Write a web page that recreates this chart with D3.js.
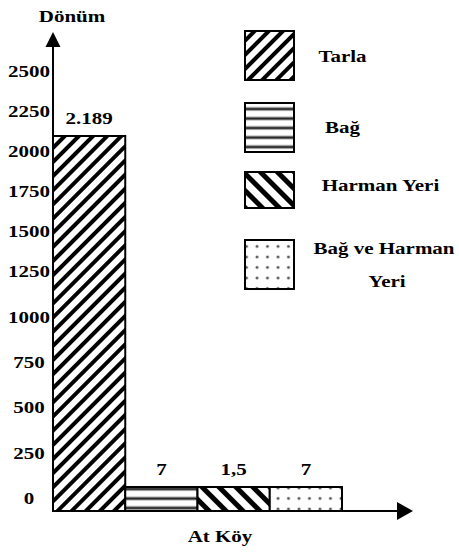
<!DOCTYPE html>
<html>
<head>
<meta charset="utf-8">
<script src="https://cdn.jsdelivr.net/npm/d3@7"></script>
<style>
  body { margin: 0; background: #fff; }
  text {
    font-family: "Liberation Serif", "Times New Roman", serif;
    font-weight: bold;
    font-size: 17.5px;
    fill: #000;
  }
  .bar, .key { stroke: #000; stroke-width: 2; }
  .axis-line { stroke: #000; stroke-width: 2; fill: none; }
</style>
</head>
<body>
<svg id="chart" width="459" height="554"></svg>
<script>
// data
const categories = ["Tarla", "Bağ", "Harman Yeri", "Bağ ve Harman Yeri"];
const values = [2189, 7, 1.5, 7];
const legendLines = [["Tarla"], ["Bağ"], ["Harman Yeri"], ["Bağ ve Harman", "Yeri"]];
const tickValues = [0, 250, 500, 750, 1000, 1250, 1500, 1750, 2000, 2250, 2500];
const groupLabel = "At Köy";
const yTitle = "Dönüm";

const patternIds = ["tarla", "bag", "harman", "noktali"];
const stretch = 1.2; // the source text is drawn a little wide
const minBarH = 24;  // small bars are drawn at a visible height

const tr = d3.formatLocale({ decimal: ",", thousands: ".", grouping: [3], currency: ["", " TL"] });
const fmtValue = tr.format(",");

const svg = d3.select("#chart");
const axisX = 53, baseY = 511;

// patterns
const defs = svg.append("defs");

const p1 = defs.append("pattern").attr("id", "tarla")
  .attr("patternUnits", "userSpaceOnUse").attr("width", 10).attr("height", 10)
  .attr("patternTransform", "rotate(45)");
p1.append("rect").attr("width", 10).attr("height", 10).attr("fill", "#fff");
p1.append("rect").attr("x", 0).attr("width", 4).attr("height", 10).attr("fill", "#000");

const p2 = defs.append("pattern").attr("id", "bag")
  .attr("patternUnits", "userSpaceOnUse").attr("width", 10).attr("height", 9.5);
p2.append("rect").attr("width", 10).attr("height", 9.5).attr("fill", "#fff");
p2.append("rect").attr("y", 2.5).attr("width", 10).attr("height", 4).attr("fill", "#aaa");
p2.append("rect").attr("y", 3.5).attr("width", 10).attr("height", 2).attr("fill", "#222");

const p3 = defs.append("pattern").attr("id", "harman")
  .attr("patternUnits", "userSpaceOnUse").attr("width", 12).attr("height", 12)
  .attr("patternTransform", "rotate(-45)");
p3.append("rect").attr("width", 12).attr("height", 12).attr("fill", "#fff");
p3.append("rect").attr("x", 0).attr("width", 5).attr("height", 12).attr("fill", "#000");

const p4 = defs.append("pattern").attr("id", "noktali")
  .attr("patternUnits", "userSpaceOnUse").attr("width", 10.5).attr("height", 10.5);
p4.append("rect").attr("width", 10.5).attr("height", 10.5).attr("fill", "#fff");
p4.append("circle").attr("cx", 5).attr("cy", 5).attr("r", 1.4).attr("fill", "#555");

// scales
const x = d3.scaleBand().domain(categories).range([axisX, 342]).padding(0);
const yBar = d3.scaleLinear().domain([0, 2189]).range([baseY, 136]);
// tick labels in the source are not evenly spaced
const yAxis = d3.scaleLinear().domain([0, 1250, 2500]).range([498, 271, 71]);

function label(sel, tx, ty) {
  return sel.attr("transform", `translate(${tx},${ty}) scale(${stretch},1)`);
}

// bars
const barTop = (v) => Math.min(yBar(v), baseY - minBarH);
svg.selectAll(".bar").data(categories).join("rect")
  .attr("class", "bar")
  .attr("x", d => x(d))
  .attr("width", x.bandwidth())
  .attr("y", (d, i) => barTop(values[i]))
  .attr("height", (d, i) => baseY - barTop(values[i]))
  .attr("fill", (d, i) => `url(#${patternIds[i]})`);

// value labels
svg.selectAll(".val").data(categories).join("text")
  .attr("class", "val")
  .attr("text-anchor", "middle")
  .each(function (d, i) {
    label(d3.select(this), x(d) + x.bandwidth() / 2, barTop(values[i]) - 12);
  })
  .text((d, i) => fmtValue(values[i]));

// y tick labels
const gy = svg.append("g")
  .attr("transform", `translate(${axisX},0)`)
  .call(d3.axisLeft(yAxis).tickValues(tickValues).tickFormat(d3.format("d")).tickSize(0));
gy.select(".domain").remove();
gy.selectAll("text")
  .attr("text-anchor", "middle")
  .attr("fill", "#000")
  .attr("font-size", null)
  .attr("font-family", null)
  .attr("x", -24 / stretch)
  .attr("transform", `scale(${stretch},1)`);
gy.attr("font-size", null).attr("font-family", null);

// axes with arrows
svg.append("line").attr("class", "axis-line")
  .attr("x1", axisX).attr("y1", baseY + 1).attr("x2", axisX).attr("y2", 45);
svg.append("path").attr("d", `M${axisX},32 L${axisX - 7.5},47 L${axisX + 7.5},47 Z`).attr("fill", "#000");
svg.append("line").attr("class", "axis-line")
  .attr("x1", axisX - 1).attr("y1", baseY).attr("x2", 399).attr("y2", baseY);
svg.append("path").attr("d", `M413,${baseY} L397,${baseY - 9} L397,${baseY + 9} Z`).attr("fill", "#000");

label(svg.append("text").attr("text-anchor", "middle"), 72, 22).text(yTitle);
label(svg.append("text").attr("text-anchor", "middle"), 220, 542).text(groupLabel);

// legend
const keyBoxes = [[31, 49], [103, 49], [172, 36], [240, 49]];
const keyText = [[342.5, [62]], [342.5, [133]], [380.5, [191]], [384, [254, 287]]];
categories.forEach((c, i) => {
  svg.append("rect").attr("class", "key")
    .attr("x", 245).attr("y", keyBoxes[i][0])
    .attr("width", 49).attr("height", keyBoxes[i][1])
    .attr("fill", `url(#${patternIds[i]})`);
  legendLines[i].forEach((line, j) => {
    const cx = j === 0 ? keyText[i][0] : 387;
    label(svg.append("text").attr("text-anchor", "middle"), cx, keyText[i][1][j]).text(line);
  });
});
</script>
</body>
</html>
